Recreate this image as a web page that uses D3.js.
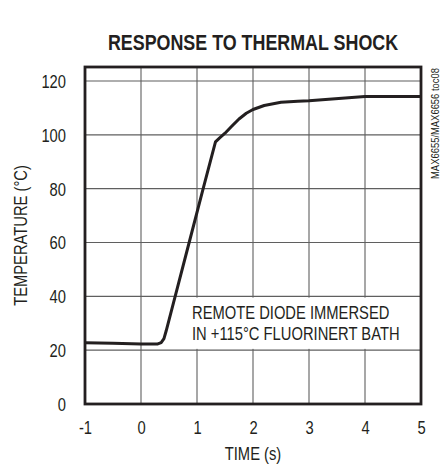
<!DOCTYPE html>
<html>
<head>
<meta charset="utf-8">
<script src="https://cdn.jsdelivr.net/npm/d3@7"></script>
<style>
  html, body { margin: 0; padding: 0; background: #fff; }
  svg { display: block; }
</style>
</head>
<body>
<div id="chart"></div>
<script>
const chartTitle = "RESPONSE TO THERMAL SHOCK";
const xLabel = "TIME (s)";
const yLabel = "TEMPERATURE (°C)";
const sideNote = "MAX6655/MAX6656 toc08";
const noteLines = ["REMOTE DIODE IMMERSED", "IN +115°C FLUORINERT BATH"];
const xTicks = [-1, 0, 1, 2, 3, 4, 5];
const xTickLabels = ["-1", "0", "1", "2", "3", "4", "5"];
const yTicks = [0, 20, 40, 60, 80, 100, 120];
const yTickLabels = ["0", "20", "40", "60", "80", "100", "120"];
const timeValues = [-1, -0.5, 0, 0.3, 0.36, 0.41, 0.45, 0.61, 0.86, 1.11, 1.33, 1.4, 1.5, 1.62, 1.75, 1.88, 2.0, 2.2, 2.5, 2.8, 3.0, 4.0, 5.0];
const tempValues = [22.8, 22.6, 22.3, 22.3, 22.8, 24.3, 27.2, 40, 60, 80, 97.4, 98.8, 100.6, 103.2, 105.9, 108, 109.4, 110.9, 112.1, 112.5, 112.7, 114.2, 114.2];

const W = 441, H = 469;
const margin = {left: 85, right: 20, top: 67, bottom: 65};
const svg = d3.select("#chart").append("svg").attr("width", W).attr("height", H);

const x = d3.scaleLinear().domain([-1, 5]).range([margin.left, W - margin.right]);
const y = d3.scaleLinear().domain([0, 125.2]).range([H - margin.bottom, margin.top]);

const FONT = "'Liberation Sans Narrow', 'Arial Narrow', 'Liberation Sans', Arial, sans-serif";

// detect narrow font availability
const probe = svg.append("text").attr("font-family", "'Liberation Sans Narrow'").attr("font-size", 20).text("REMOTE DIODE");
const probe2 = svg.append("text").attr("font-family", "'Liberation Sans'").attr("font-size", 20).text("REMOTE DIODE");
const narrowOK = probe.node().getComputedTextLength() < 0.9 * probe2.node().getComputedTextLength();
probe.remove(); probe2.remove();
const sx = narrowOK ? 1 : 0.82;

function txt(g, str, px, py, opts = {}) {
  return g.append("text")
    .attr("font-family", FONT)
    .attr("font-size", opts.size || 18)
    .attr("font-weight", opts.weight || "normal")
    .attr("fill", opts.fill || "#231f20")
    .attr("text-anchor", opts.anchor || "start")
    .attr("transform", `translate(${px},${py}) rotate(${opts.rotate || 0}) scale(${sx},1)`)
    .text(str);
}

// gridlines
const grid = svg.append("g");
grid.selectAll(".vg").data(xTicks).join("line")
  .attr("x1", d => x(d)).attr("x2", d => x(d))
  .attr("y1", y.range()[1]).attr("y2", y.range()[0])
  .attr("stroke", "#5f5f5f").attr("stroke-width", 1.1);
grid.selectAll(".hg").data(yTicks).join("line")
  .attr("x1", x.range()[0]).attr("x2", x.range()[1])
  .attr("y1", d => y(d)).attr("y2", d => y(d))
  .attr("stroke", "#5f5f5f").attr("stroke-width", 1.1);

// annotation box (covers vertical gridlines)
svg.append("rect")
  .attr("x", x(0.87)).attr("y", y(40) + 1.3)
  .attr("width", x(5) - x(0.87) - 1).attr("height", y(20) - y(40) - 2.6)
  .attr("fill", "#fff");

// curve
const line = d3.line().x((d, i) => x(timeValues[i])).y(d => y(d)).curve(d3.curveLinear);
svg.append("path").datum(tempValues)
  .attr("d", line)
  .attr("fill", "none").attr("stroke", "#231f20").attr("stroke-width", 3)
  .attr("stroke-linejoin", "round").attr("stroke-linecap", "butt");

// frame
svg.append("rect")
  .attr("x", x.range()[0]).attr("y", y.range()[1])
  .attr("width", x.range()[1] - x.range()[0]).attr("height", y.range()[0] - y.range()[1])
  .attr("fill", "none").attr("stroke", "#231f20").attr("stroke-width", 2.8);

// axes via d3 axis (labels only)
const xAxis = svg.append("g").attr("transform", `translate(0,${y.range()[0]})`)
  .call(d3.axisBottom(x).tickValues(xTicks).tickSize(0).tickPadding(17)
    .tickFormat((d, i) => xTickLabels[i]));
xAxis.select(".domain").remove();
xAxis.selectAll("text").attr("font-family", FONT).attr("font-size", 18).attr("fill", "#231f20")
  .attr("transform", `scale(${sx},1)`);

const yAxis = svg.append("g").attr("transform", `translate(${x.range()[0]},0)`)
  .call(d3.axisLeft(y).tickValues(yTicks).tickSize(0).tickPadding(19)
    .tickFormat((d, i) => yTickLabels[i]));
yAxis.select(".domain").remove();
yAxis.selectAll("text").attr("font-family", FONT).attr("font-size", 18).attr("fill", "#231f20")
  .attr("dy", "0.36em");
yAxis.selectAll(".tick text").each(function() {
  const t = d3.select(this);
  const xx = +t.attr("x");
  t.attr("x", xx / sx).attr("transform", `scale(${sx},1)`);
});

// texts
txt(svg, chartTitle, (x.range()[0] + x.range()[1]) / 2, 49.5, {size: 21.8, weight: "bold", anchor: "middle"});
txt(svg, xLabel, (x.range()[0] + x.range()[1]) / 2, 460, {anchor: "middle"});
txt(svg, yLabel, 26.5, (y.range()[0] + y.range()[1]) / 2, {anchor: "middle", rotate: -90});
txt(svg, sideNote, 438.5, y.range()[1] + 1, {size: 11.5, anchor: "end", rotate: -90});
noteLines.forEach((s, i) => txt(svg, s, 192, 319 + i * 21, {}));
</script>
</body>
</html>
